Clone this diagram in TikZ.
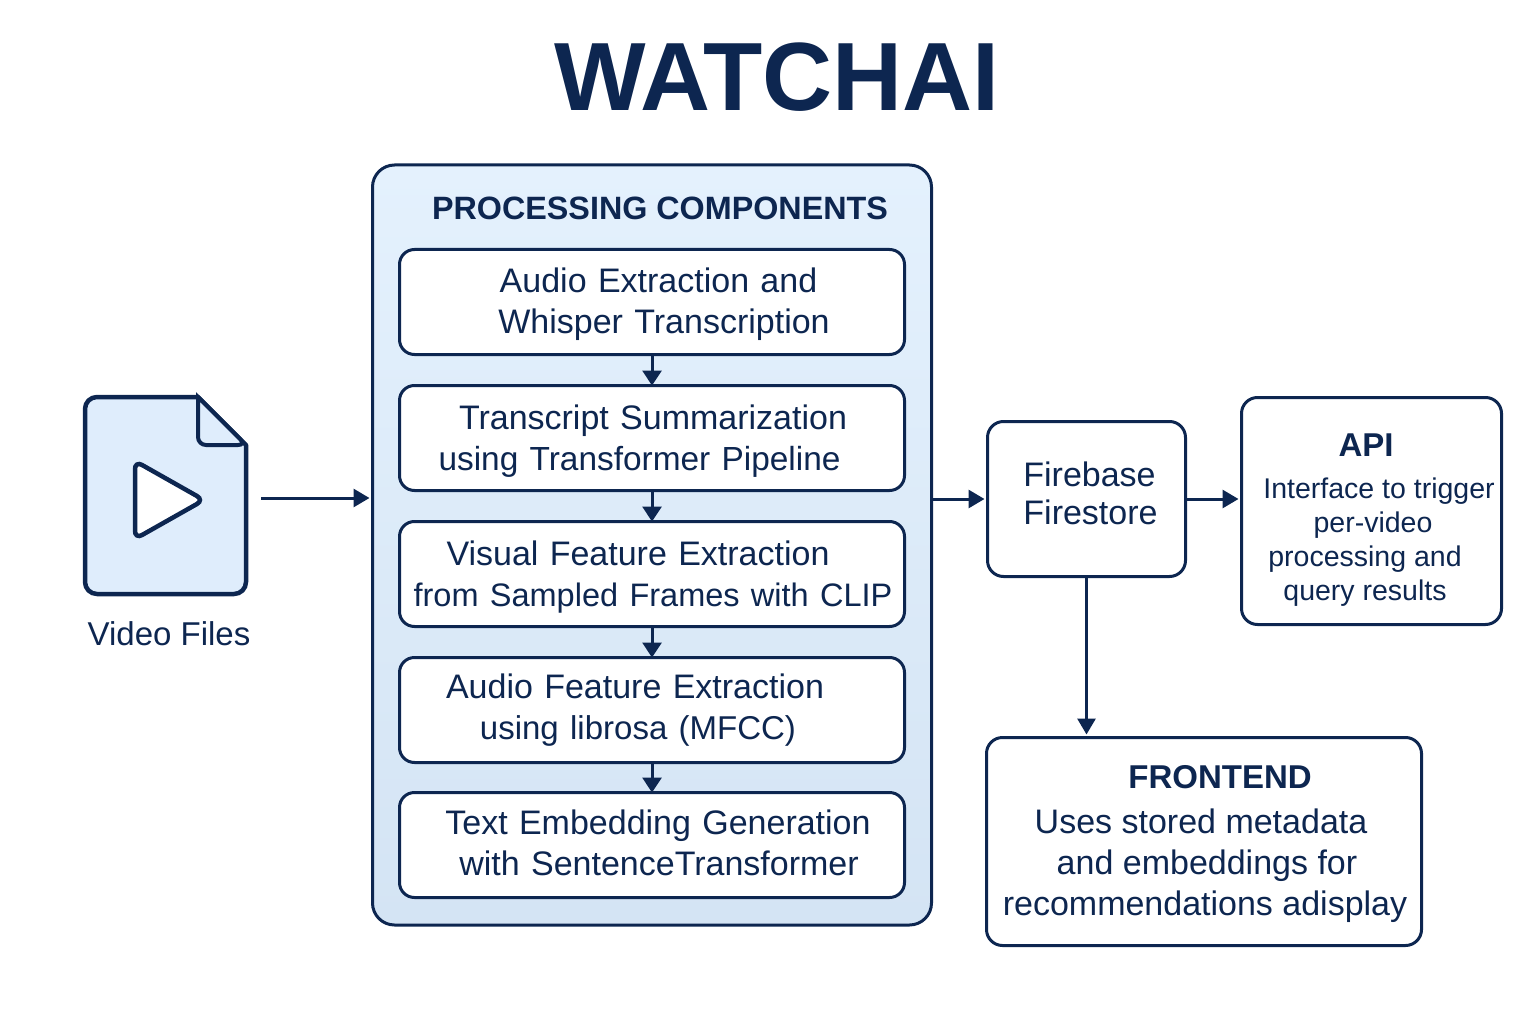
\documentclass[tikz,border=0pt]{standalone}
\usepackage{fontspec}
\setmainfont{Liberation Sans}
\usetikzlibrary{positioning}
\usetikzlibrary{arrows.meta}

\definecolor{navy}{HTML}{0D2650}
\definecolor{panelhi}{HTML}{E4F1FD}
\definecolor{panello}{HTML}{D4E4F4}
\definecolor{filefill}{HTML}{DFEDFC}

% shifts one line of a centred label sideways
\newcommand{\nudged}[2]{\hspace*{#1}#2}
% pushes a label down (extra height on its first line) or up (extra depth on its last)
\newcommand{\downgap}[1]{\rule{0pt}{#1}}
\newcommand{\upgap}[1]{\rule[-#1]{0pt}{#1}}

\begin{document}
\begin{tikzpicture}[
    x=1pt, y=-1pt,
    every node/.style={text=navy, outer sep=0pt, inner sep=0pt},
    panel/.style={rectangle, draw=navy, line width=3pt, rounded corners=22pt, top color=panelhi, bottom color=panello, minimum width=559pt, minimum height=760pt},
    stage/.style={rectangle, draw=navy, line width=3pt, rounded corners=15pt, fill=white, minimum width=505pt, minimum height=105pt, text width=500pt, align=center, font=\fontsize{34}{41}\selectfont},
    outbox/.style={rectangle, draw=navy, line width=3pt, rounded corners=16pt, fill=white, align=center},
    flow/.style={-{Triangle[length=15pt, width=19pt]}, draw=navy, line width=3pt},
    linkmsg/.style={-{Triangle[length=16pt, width=18pt]}, draw=navy, line width=3pt, shorten >=3pt}
]
\useasboundingbox (0,0) rectangle (1536,1024);

% Title
\node[font=\bfseries\fontsize{97}{97}\selectfont] (title) at (777,77) {WATCHAI};

% Video file icon
\draw[navy, line width=4.5pt, fill=filefill, line join=round] (97,397) -- (198,397) -- (246,445) -- (246,582) arc[start angle=0, end angle=90, radius=12pt, y radius=-12pt] -- (97,594) arc[start angle=90, end angle=180, radius=12pt, y radius=-12pt] -- (85,409) arc[start angle=180, end angle=270, radius=12pt, y radius=-12pt] -- cycle;
\draw[navy, line width=4pt, fill=filefill, rounded corners=8pt] (198,397) -- (198,445) -- (246,445) [sharp corners] -- cycle;
\draw[navy, line width=4.5pt, fill=white, rounded corners=8pt] (135,461) -- (204,500) -- (135,539) -- cycle;
\node[font=\fontsize{33}{40}\selectfont] (video) at (169,634) {Video Files};
\coordinate (fileout) at (261,498);

% Processing panel
\node[panel] (panel) at (652,545) {};
\node[font=\bfseries\fontsize{32.3}{40}\selectfont] (panelhead) at (660,208) {PROCESSING COMPONENTS};

% Stages (top to bottom)
\node[stage] (audio) at (652,302) {\downgap{30pt}\nudged{13pt}{Audio Extraction and}\\ \nudged{24pt}{Whisper Transcription}};
\node[stage, below=31pt of audio] (summary) {\downgap{30pt}\nudged{2pt}{Transcript Summarization}\\ \nudged{-25pt}{\fontsize{33.4}{41}\selectfont using Transformer Pipeline}};
\node[stage, below=31pt of summary] (visual) {\downgap{30pt}\nudged{-28pt}{Visual Feature Extraction}\\ \nudged{2pt}{\fontsize{32.5}{41}\selectfont from Sampled Frames with CLIP}};
\node[stage, below=31pt of visual] (mfcc) {\nudged{-34pt}{Audio Feature Extraction}\\ \nudged{-28pt}{\fontsize{33}{41}\selectfont using librosa (MFCC)}};
\node[stage, below=30pt of mfcc] (embed) {\nudged{12pt}{Text Embedding Generation}\\ \nudged{14pt}{with SentenceTransformer}\upgap{4pt}};

\foreach \a/\b in {audio/summary, summary/visual, visual/mfcc, mfcc/embed} {
   \draw[flow] (\a.south) -- (\b.north);
}

% Outputs
\node[outbox, minimum width=198pt, minimum height=155pt, font=\fontsize{34}{38}\selectfont] (firebase) at (1086.5,499) {\nudged{6pt}{Firebase}\\ \nudged{8pt}{Firestore}\upgap{12pt}};
\node[outbox, minimum width=260pt, minimum height=227pt, font=\fontsize{28.5}{34}\selectfont] (api) at (1371.5,511) {\downgap{40.5pt}\nudged{-11pt}{\bfseries\fontsize{33}{40}\selectfont API}\\[8.5pt] \nudged{15pt}{Interface to trigger}\\ \nudged{3pt}{per-video}\\ \nudged{-13pt}{processing and}\\ \nudged{-13pt}{query results}};
\node[outbox, minimum width=435pt, minimum height=208pt, font=\fontsize{34}{41}\selectfont] (frontend) at (1204,841.5) {\downgap{29pt}\nudged{32pt}{\bfseries\fontsize{33}{40}\selectfont FRONTEND}\\[4pt] \nudged{-6pt}{Uses stored metadata}\\ \nudged{6pt}{and embeddings for}\\ \nudged{2pt}{recommendations adisplay}};

% Connectors
\draw[linkmsg] (fileout) -- (fileout -| panel.west);
\draw[linkmsg] (firebase.west -| panel.east) -- (firebase.west);
\draw[linkmsg] (firebase.east) -- (firebase.east -| api.west);
\draw[linkmsg] (firebase.south) -- (firebase.south |- frontend.north);

\end{tikzpicture}
\end{document}
